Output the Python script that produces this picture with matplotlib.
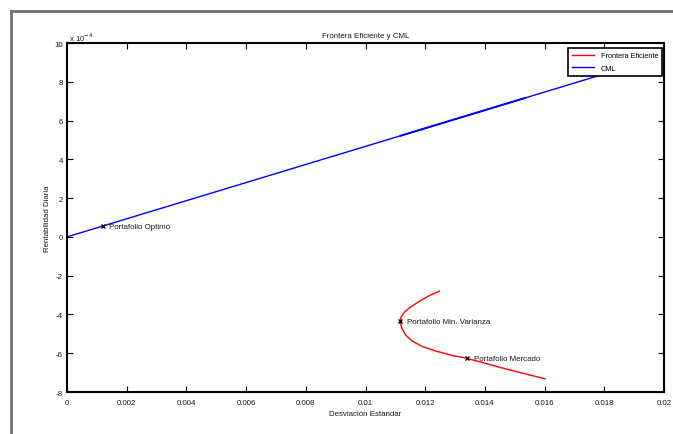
import matplotlib
matplotlib.use("Agg")
import matplotlib.pyplot as plt
from matplotlib.lines import Line2D
from matplotlib.ticker import FuncFormatter, MultipleLocator

plt.rcParams['font.family'] = ['Liberation Sans', 'DejaVu Sans']

# Efficient frontier (std dev, daily return)
frontier_sigma = [0.012475, 0.012140, 0.011806, 0.011472, 0.011304, 0.011193,
                  0.011159, 0.011226, 0.011360, 0.011580, 0.011915, 0.012363,
                  0.012918, 0.013366, 0.014704, 0.016017]
frontier_ret = [-2.80e-4, -3.03e-4, -3.32e-4, -3.66e-4, -3.88e-4, -4.14e-4,
                -4.40e-4, -4.74e-4, -5.09e-4, -5.38e-4, -5.66e-4, -5.89e-4,
                -6.12e-4, -6.25e-4, -6.81e-4, -7.32e-4]

# Capital market line
cml_sigma = [0.0, 0.019]
cml_ret = [0.0, 8.87e-4]
cml_dense_sigma = [0.01114, 0.01538]
cml_dense_ret = [5.20e-4, 7.18e-4]

# Labelled portfolios
port_names = ['Portafolio Optimo', 'Portafolio Min. Varianza', 'Portafolio Mercado']
port_sigma = [0.00119, 0.01116, 0.01339]
port_ret = [0.55e-4, -4.35e-4, -6.25e-4]

W, H = 673, 435
fs = 5.7
txt_c = '#1a1a1a'
fig = plt.figure(figsize=(W / 100, H / 100), dpi=100)
fig.patch.set_facecolor('white')

# window frame
frame_c = '#707070'
fig.add_artist(Line2D([11 / W, 1.0], [1 - 12 / H, 1 - 12 / H], transform=fig.transFigure,
                      color=frame_c, lw=2.0))
fig.add_artist(Line2D([11 / W, 11 / W], [0.0, 1 - 12 / H], transform=fig.transFigure,
                      color=frame_c, lw=2.0))

left, right, top, bottom = 67, 664, 44, 393
ax = fig.add_axes([left / W, 1 - bottom / H, (right - left) / W, (bottom - top) / H])

ax.plot(frontier_sigma, frontier_ret, color='#ff0000', lw=1.0, label='Frontera Eficiente')
ax.plot(cml_sigma, cml_ret, color='#0000ff', lw=1.0, label='CML')
ax.plot(cml_dense_sigma, cml_dense_ret, color='#0000ff', lw=1.4, solid_capstyle='butt')

for name, s, r in zip(port_names, port_sigma, port_ret):
    ax.plot([s], [r], marker='x', color='black', markersize=3, mew=1.0, ls='none')
    ax.annotate(name, (s, r), xytext=(5, 0), textcoords='offset points',
                fontsize=fs, va='center', ha='left', color=txt_c)

ax.set_xlim(0, 0.02)
ax.set_ylim(-8e-4, 10e-4)
ax.xaxis.set_major_locator(MultipleLocator(0.002))
ax.yaxis.set_major_locator(MultipleLocator(2e-4))
ax.xaxis.set_major_formatter(FuncFormatter(lambda v, p: '%g' % round(v, 6)))
ax.yaxis.set_major_formatter(FuncFormatter(lambda v, p: '%g' % round(v * 1e4, 6)))

for sp in ax.spines.values():
    sp.set_linewidth(1.5)
    sp.set_color('black')
ax.tick_params(axis='both', direction='in', length=4, width=0.8, labelsize=fs,
               colors='black', top=True, right=True)
ax.tick_params(axis='x', pad=5)
ax.tick_params(axis='y', pad=3)
for lab in ax.get_xticklabels() + ax.get_yticklabels():
    lab.set_color(txt_c)

ax.text(0.003, 1.001, r'x 10$^{-4}$', transform=ax.transAxes, fontsize=fs,
        ha='left', va='bottom', color=txt_c)

ax.set_title('Frontera Eficiente y CML', fontsize=fs, pad=4, color=txt_c)
ax.set_xlabel('Desviación Estandar', fontsize=fs, labelpad=3, color=txt_c)
ax.set_ylabel('Rentabilidad Diaria', fontsize=fs, labelpad=2, color=txt_c)

leg = ax.legend(loc='upper right', bbox_to_anchor=(0.997, 0.986), fontsize=5.3,
                frameon=True, fancybox=False, borderpad=0.55, handlelength=3.0,
                handletextpad=0.9, labelspacing=0.75, borderaxespad=0)
leg.get_frame().set_edgecolor('black')
leg.get_frame().set_linewidth(1.2)
leg.get_frame().set_alpha(1)

fig.savefig('out.png', dpi=100)
